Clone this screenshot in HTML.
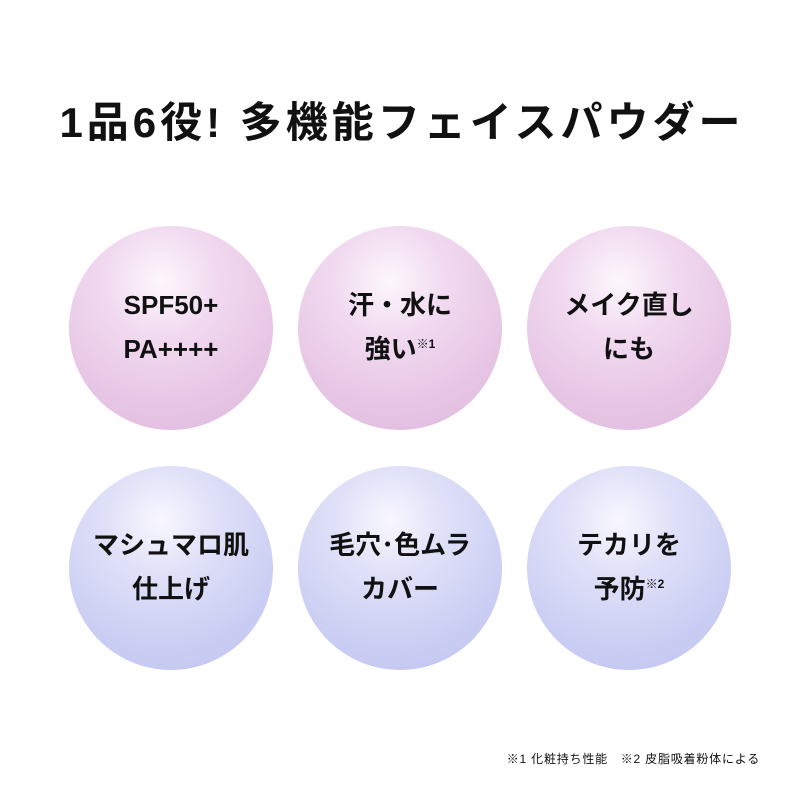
<!DOCTYPE html>
<html><head><meta charset="utf-8"><style>
body{margin:0;width:800px;height:800px;background:#fff;position:relative;font-family:"Liberation Sans","Noto Sans CJK JP",sans-serif;color:#111;overflow:hidden}
.t{position:absolute;top:98px;left:0;width:800px;text-align:center;font-size:42px;font-weight:bold;letter-spacing:4px;line-height:50px;text-indent:4px}
.c{position:absolute;width:204px;height:204px;border-radius:50%;display:flex;align-items:center;justify-content:center;text-align:center;font-size:26px;font-weight:bold;line-height:44px}
.c div{margin-top:-2px}
.p{background:radial-gradient(circle at 45% 27%,#fdf7fc 0%,#f1daf0 30%,#e6c4e4 70%,#ddb9dc 100%)}
.v{background:radial-gradient(circle at 45% 27%,#f8f7fe 0%,#dfe0f8 30%,#cacdf3 70%,#bec2ee 100%)}
sup{font-size:12px;vertical-align:10px;line-height:0}
.f{position:absolute;top:750px;right:40px;font-size:12px;letter-spacing:0.8px}
</style></head><body>
<div class="t">1品6役! 多機能フェイスパウダー</div>
<div class="c p" style="left:69px;top:226px"><div>SPF50+<br>PA++++</div></div>
<div class="c p" style="left:298px;top:226px"><div>汗・水に<br>強い<sup>※1</sup></div></div>
<div class="c p" style="left:527px;top:226px"><div>メイク直し<br>にも</div></div>
<div class="c v" style="left:69px;top:466px"><div>マシュマロ肌<br>仕上げ</div></div>
<div class="c v" style="left:298px;top:466px"><div>毛穴･色ムラ<br>カバー</div></div>
<div class="c v" style="left:527px;top:466px"><div>テカリを<br>予防<sup>※2</sup></div></div>
<div class="f">※1 化粧持ち性能　※2 皮脂吸着粉体による</div>
</body></html>
